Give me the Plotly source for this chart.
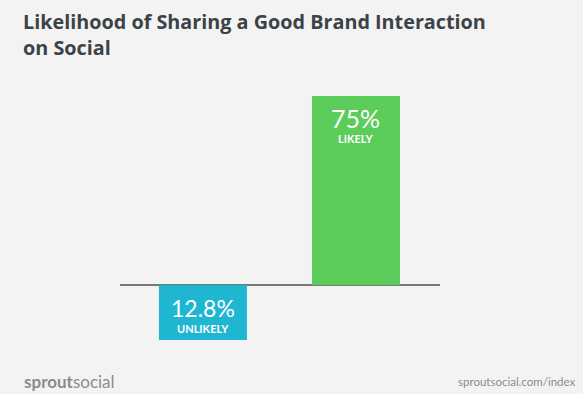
import plotly.graph_objects as go

categories = ["Unlikely", "Likely"]
values = [-12.8, 75]
value_labels = ["12.8%", "75%"]
word_labels = ["UNLIKELY", "LIKELY"]
colors = ["#1fb6d2", "#5ccc5a"]

BG = "#f3f3f3"
W, H = 583, 394
L, R, T, B = 120, 143, 96, 54
pw, ph = W - L - R, H - T - B

def px_x(p):
    return (p - L) / pw

def px_y(p):
    return (H - B - p) / ph

fig = go.Figure()
# Unlikely bar on its own axis (stretched negative side, as in the original graphic)
fig.add_trace(go.Bar(x=[0], y=[values[0]], marker_color=colors[0], width=0.575,
                     yaxis="y2", hoverinfo="skip", marker_line_width=0, name=categories[0]))
fig.add_trace(go.Bar(x=[1], y=[values[1]], marker_color=colors[1], width=0.575,
                     hoverinfo="skip", marker_line_width=0, name=categories[1]))

# Likely labels
fig.add_annotation(x=1, y=values[1], xref="x", yref="y", text=value_labels[1], showarrow=False,
                   yanchor="top", yshift=-5, font=dict(family="Lato", size=25, color="white"))
fig.add_annotation(x=1, y=values[1], xref="x", yref="y", text="<b>" + word_labels[1] + "</b>",
                   showarrow=False, yanchor="top", yshift=-34,
                   font=dict(family="Lato", size=11, color="white"))
# Unlikely labels
fig.add_annotation(x=0, y=0, xref="x", yref="y2", text=value_labels[0], showarrow=False,
                   yanchor="top", yshift=-7, font=dict(family="Lato", size=23, color="white"))
fig.add_annotation(x=0, y=0, xref="x", yref="y2", text="<b>" + word_labels[0] + "</b>",
                   showarrow=False, yanchor="top", yshift=-35,
                   font=dict(family="Lato", size=11, color="white"))

# Title
fig.add_annotation(x=px_x(21), y=px_y(6), xref="paper", yref="paper", xanchor="left", yanchor="top",
                   text="<b>Likelihood of Sharing a Good Brand Interaction<br>on Social</b>",
                   showarrow=False, align="left",
                   font=dict(family="Open Sans", size=19.8, color="#3b4346"))
# Footer
fig.add_annotation(x=px_x(22), y=px_y(381), xref="paper", yref="paper",
                   xanchor="left", yanchor="middle", showarrow=False,
                   text="<b>sprout</b>social", font=dict(family="Lato", size=17, color="#8c8c8c"))
fig.add_annotation(x=px_x(578), y=px_y(381), xref="paper", yref="paper",
                   xanchor="right", yanchor="middle", showarrow=False,
                   text="sproutsocial.com/index", font=dict(family="Lato", size=11.5, color="#8c8c8c"))

fig.update_layout(
    width=W, height=H,
    paper_bgcolor=BG, plot_bgcolor=BG,
    margin=dict(l=L, r=R, t=T, b=B),
    showlegend=False,
    xaxis=dict(range=[-0.542, 1.549], visible=False, fixedrange=True),
    yaxis=dict(range=[-21.83, 75], showgrid=False, showticklabels=False, zeroline=True,
               zerolinecolor="#777777", zerolinewidth=1.5),
    yaxis2=dict(range=[-12.8, 43.99], overlaying="y", showgrid=False, showticklabels=False,
                zeroline=False),
)

fig.write_html("out.html", config={"displayModeBar": False},
               post_script="document.body.style.margin='0';document.body.style.background='#f3f3f3';")
